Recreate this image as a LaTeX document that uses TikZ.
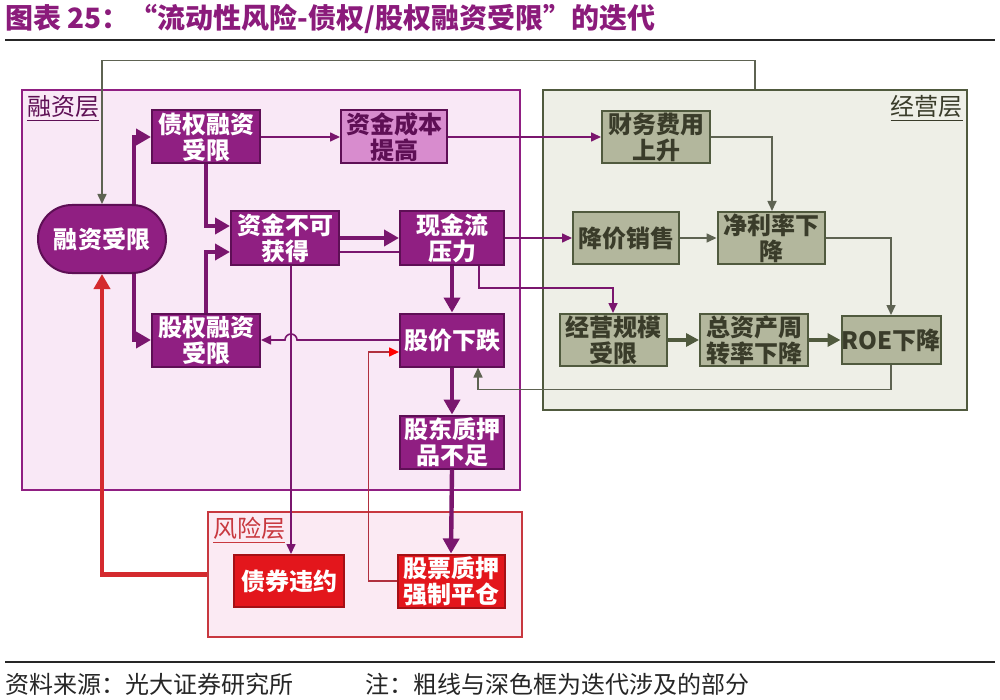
\documentclass[tikz,border=0pt]{standalone}
\usepackage{fontspec}
\setmainfont{Noto Sans CJK SC}
\usetikzlibrary{arrows.meta,calc}
\definecolor{ppl}{HTML}{901F82}
\definecolor{ppldk}{HTML}{5E0F55}
\definecolor{pline}{HTML}{7A166E}
\definecolor{pinkbg}{HTML}{F9E8F6}
\definecolor{lightppl}{HTML}{D88CCE}
\definecolor{opsbg}{HTML}{EEEFE7}
\definecolor{opsline}{HTML}{505A3E}
\definecolor{gbox}{HTML}{B3B79D}
\definecolor{gtext}{HTML}{3A3C2A}
\definecolor{gline}{HTML}{5E6352}
\definecolor{redbox}{HTML}{E3161C}
\definecolor{redbd}{HTML}{A51015}
\definecolor{redline}{HTML}{D42A2E}
\definecolor{riskline}{HTML}{C8383F}
\definecolor{riskbg}{HTML}{FBEAF3}
\definecolor{thinred}{HTML}{B0303E}
\definecolor{titlec}{HTML}{8B1B7B}
\begin{document}
\begin{tikzpicture}[x=0.5pt,y=-0.5pt,
  layer/.style={line width=1.3pt, inner sep=0pt},
  boxbase/.style={line width=1pt, align=center, inner sep=0pt,
    font=\bfseries\fontsize{12}{13}\selectfont, minimum height=26.5pt},
  pbox/.style={boxbase, fill=ppl, draw=ppldk, text=white},
  lbox/.style={boxbase, fill=lightppl, draw=ppldk, text=ppldk},
  gboxs/.style={boxbase, fill=gbox, draw=opsline, text=gtext},
  rbox/.style={boxbase, fill=redbox, draw=redbd, text=white},
  thickp/.style={draw=pline, line width=2.2pt, -{Triangle[length=7.5pt,width=8pt]}},
  thinp/.style={draw=pline, line width=0.8pt, -{Triangle[length=5pt,width=4.5pt]}},
  thinpl/.style={draw=pline, line width=0.8pt},
  thing/.style={draw=gline, line width=0.8pt, -{Triangle[length=5pt,width=4.5pt]}},
  thickg/.style={draw=opsline, line width=1.8pt, -{Triangle[length=6.5pt,width=6.5pt]}},
  thinr/.style={draw=thinred, line width=0.8pt, -{Triangle[length=5pt,width=4.5pt,color=red]}},
  thickr/.style={draw=redline, line width=2.2pt, -{Triangle[length=7.5pt,width=8pt]}},
  lab/.style={inner sep=0.5pt, font=\fontsize{12}{13}\selectfont}
]
\useasboundingbox (0,0) rectangle (1000,700);
\fill[white] (0,0) rectangle (1000,700);

% title and footer
\node[anchor=west, text=titlec, inner sep=0pt, font=\bfseries\fontsize{14}{16}\selectfont] (title) at (5,19) {图表 25：“流动性风险-债权/股权融资受限”的迭代};
\draw[line width=1pt, black!85] (5,40) -- (995,40);
\draw[line width=1pt, black!85] (5,662) -- (995,662);
\node[anchor=west, inner sep=0pt, text=black!85, font=\fontsize{12}{13}\selectfont] (src) at (5,684) {资料来源：光大证券研究所};
\node[anchor=west, inner sep=0pt, text=black!85, font=\fontsize{12}{13}\selectfont] (note) at (365,684) {注：粗线与深色框为迭代涉及的部分};

% layers
\node[layer, draw=ppl, fill=pinkbg, minimum width=249pt, minimum height=200pt] (fin) at (271,290) {};
\node[layer, draw=opsline, fill=opsbg, minimum width=212pt, minimum height=160pt] (ops) at (755,250) {};
\node[layer, draw=riskline, fill=riskbg, minimum width=157pt, minimum height=62.5pt] (risk) at (365,574.5) {};
\node[lab, anchor=north west, text=ppldk] (finlab) at (26,94) {\underline{融资层}};
\node[lab, anchor=north east, text=gtext] (opslab) at (964,94) {\underline{经营层}};
\node[lab, anchor=north west, text=riskline] (risklab) at (212,516) {\underline{风险层}};

% nodes
\node[pbox, minimum width=64pt, minimum height=34pt, rounded corners=16.9pt] (ronzi) at (102,239) {融资受限};
\node[pbox, minimum width=54pt] (zhai) at (206,137) {债权融资\\受限};
\node[lbox, minimum width=53pt] (cost) at (394,137) {资金成本\\提高};
\node[gboxs, minimum width=54pt, minimum height=26pt] (fee) at (656,137) {财务费用\\上升};
\node[pbox, minimum width=54pt] (unavail) at (285,238) {资金不可\\获得};
\node[pbox, minimum width=52pt] (cash) at (452,238) {现金流\\压力};
\node[gboxs, minimum width=53pt, minimum height=26pt] (price) at (626,238) {降价销售};
\node[gboxs, minimum width=53.5pt, minimum height=26pt] (margin) at (771,238) {净利率下\\降};
\node[pbox, minimum width=54pt] (gu) at (206,340) {股权融资\\受限};
\node[pbox, minimum width=52pt] (stock) at (452,340) {股价下跌};
\node[gboxs, minimum width=53.5pt, minimum height=26pt] (scale) at (613,340) {经营规模\\受限};
\node[gboxs, minimum width=54pt, minimum height=26pt] (turn) at (754,340) {总资产周\\转率下降};
\node[gboxs, minimum width=49pt, minimum height=24pt] (roe) at (891,340) {ROE下降};
\node[pbox, minimum width=52pt] (pledge) at (452,442) {股东质押\\品不足};
\node[rbox, minimum width=55pt, minimum height=26pt] (default) at (289,581) {债券违约};
\node[rbox, minimum width=53.5pt] (liquid) at (451,581) {股票质押\\强制平仓};

% thick iteration connectors
\draw[thickp] ($(ronzi.north)+(32,0)$) |- (zhai.west);
\draw[thickp] ($(ronzi.south)+(32,0)$) |- (gu.west);
\draw[thickp] (zhai.south) |- ($(unavail.west)+(0,-12)$);
\draw[thickp] (gu.north) |- ($(unavail.west)+(0,14)$);
\draw[thickp] (unavail.east) -- (cash.west);
\draw[thinpl] ($(unavail.east)+(0,14)$) -- ($(cash.west)+(0,14)$);
\draw[thickp] (cash.south) -- (stock.north);
\draw[thickp] (stock.south) -- (pledge.north);
\draw[thickp] (pledge.south) -- (liquid.north);
\draw[thickr] (risk.west) -| (ronzi.south);

% thin connectors
\draw[thinp] (zhai.east) -- (cost.west);
\draw[thinp] (cost.east) -- (fee.west);
\draw[thinp] (cash.east) -- (price.west);
\draw[thinp] ($(cash.south)+(27,0)$) -- ++(0,22.5) -| (scale.north);
\coordinate (v) at ($(unavail.south)+(6,0)$);
\draw[thinp] (v) -- (v |- default.north);
\draw[thinp] (stock.west) -- ($(stock.west -| v)+(6,0)$) arc[start angle=0, end angle=-180, radius=6] -- (gu.east);
\draw[thinr] (liquid.west) -- ++(-28,0) |- ($(stock.west)+(0,12)$);

% operating layer connectors
\draw[thing] (fee.east) -| ($(margin.north)+(1,0)$);
\draw[thing] (price.east) -- (margin.west);
\draw[thing] (margin.east) -| (roe.north);
\draw[thickg] (scale.east) -- (turn.west);
\draw[thickg] (turn.east) -- (roe.west);
\draw[thing] (roe.south) -- ++(0,24.5) -| ($(stock.south)+(26,0)$);
\draw[thing] (ops.north) -- ++(0,-28) -| (ronzi.north);
\end{tikzpicture}
\end{document}
